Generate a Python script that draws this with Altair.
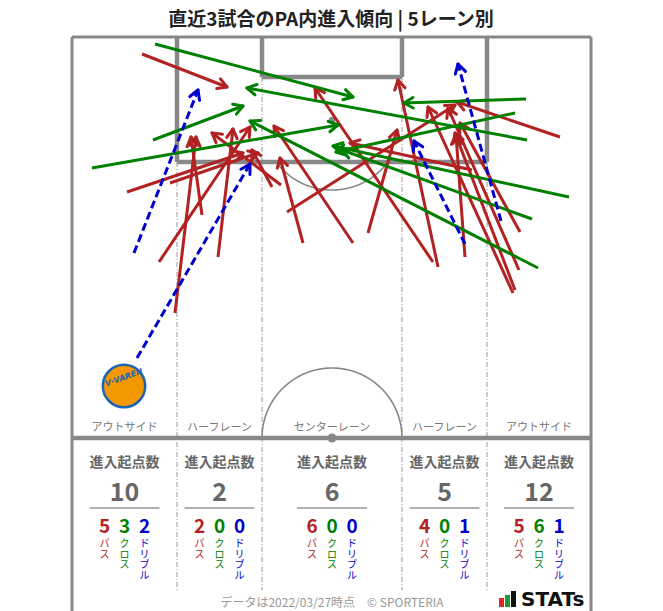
import altair as alt
import pandas as pd
import numpy as np

# ---------------- data (screen-pixel coordinates of the pitch drawing) ----------------
# passes (red)
pass_x0 = [142, 127, 170, 159, 175, 202, 218, 272, 281, 287, 303, 353, 368, 438, 465, 433, 472, 560, 520, 519, 513, 515]
pass_y0 = [54, 192, 183, 262, 313, 215, 257, 187, 185, 212, 243, 243, 233, 267, 257, 262, 170, 137, 232, 270, 293, 290]
pass_x1 = [227, 243, 258, 250, 196, 191, 233, 252, 212, 455, 280, 274, 397, 398, 456, 315, 350, 457, 460, 448, 428, 455]
pass_y1 = [87, 153, 153, 127, 137, 137, 129, 150, 133, 105, 158, 126, 130, 80, 135, 88, 143, 102, 123, 108, 107, 133]
# crosses (green)
cross_x0 = [155, 153, 92, 526, 527, 515, 569, 532, 538]
cross_y0 = [44, 140, 168, 99, 140, 113, 197, 219, 268]
cross_x1 = [353, 243, 338, 404, 247, 336, 333, 342, 250]
cross_y1 = [97, 106, 125, 103, 88, 152, 146, 150, 121]
# dribbles (blue, dashed)
drib_x0 = [137, 134, 465, 501]
drib_y0 = [358, 253, 244, 221]
drib_x1 = [250, 198, 414, 458]
drib_y1 = [164, 90, 141, 64]

lanes = ["アウトサイド", "ハーフレーン", "センターレーン", "ハーフレーン", "アウトサイド"]
lane_total = [10, 2, 6, 5, 12]
lane_pass = [5, 2, 6, 4, 5]
lane_cross = [3, 0, 0, 0, 6]
lane_drib = [2, 0, 0, 1, 1]
kind_labels = ["パス", "クロス", "ドリブル"]

title_text = "直近3試合のPA内進入傾向 | 5レーン別"
footer_text = "データは2022/03/27時点　© SPORTERIA"

# ---------------- geometry of the pitch ----------------
L, R, T, B = 72, 591, 37, 611
HALF = 438
lane_x = [72, 177, 262, 402, 487, 591]
lane_cx = [(lane_x[i] + lane_x[i + 1]) / 2 for i in range(5)]
CX = 332

RED, GREEN, BLUE = "#b22222", "#008000", "#0000cd"
GRAY = "#888888"
FONT = "Noto Sans CJK JP"

W, H = 647, 603
xs = alt.Scale(domain=[8, 8 + W], nice=False, zero=False)
ys = alt.Scale(domain=[8, 8 + H], nice=False, zero=False, reverse=True)

X = lambda f="x": alt.X(f"{f}:Q", scale=xs, axis=None)
Y = lambda f="y": alt.Y(f"{f}:Q", scale=ys, axis=None)


def seg_layer(df, **mk):
    return alt.Chart(df).mark_rule(**mk).encode(x=X(), y=Y(), x2="x2:Q", y2="y2:Q")


def segs(lst):
    return pd.DataFrame(lst, columns=["x", "y", "x2", "y2"])


border = seg_layer(segs([(L, T, R, T), (L, T, L, B), (R, T, R, B)]), color=GRAY, strokeWidth=3)
thick = seg_layer(
    segs([
        (177, T, 177, 162), (487, T, 487, 162), (177, 162, 487, 162),
        (262, T, 262, 77), (402, T, 402, 77), (262, 77, 402, 77),
        (L, HALF, R, HALF),
    ]),
    color=GRAY, strokeWidth=4.5,
)
lane_lines = seg_layer(
    segs([(177, 162, 177, 590), (487, 162, 487, 590), (262, 77, 262, 590), (402, 77, 402, 590)]),
    color="#999999", strokeWidth=1, strokeDash=[5, 2, 1, 2],
)


def arc_df(cx, cy, r, a0, a1, n=80):
    t = np.linspace(a0, a1, n)
    return pd.DataFrame({"x": cx + r * np.cos(t), "y": cy + r * np.sin(t), "o": np.arange(n)})


center_arc = alt.Chart(arc_df(CX, HALF, 70, np.pi, 2 * np.pi)).mark_line(color=GRAY, strokeWidth=1.6).encode(
    x=X(), y=Y(), order="o:Q")
pa = np.arccos(42 / 70)
pen_arc = alt.Chart(arc_df(CX, 120, 70, np.pi / 2 - pa, np.pi / 2 + pa)).mark_line(color=GRAY, strokeWidth=1.6).encode(
    x=X(), y=Y(), order="o:Q")
spot1 = alt.Chart(pd.DataFrame({"x": [CX], "y": [HALF]})).mark_circle(size=80, color=GRAY, opacity=1).encode(x=X(), y=Y())
spot2 = alt.Chart(pd.DataFrame({"x": [CX], "y": [120]})).mark_circle(size=45, color=GRAY, opacity=1).encode(x=X(), y=Y())


# ---------------- arrows ----------------
def arrow_frames(x0, y0, x1, y1, hl=10.5, phi=np.radians(30)):
    x0, y0, x1, y1 = (np.asarray(v, dtype=float) for v in (x0, y0, x1, y1))
    shafts = pd.DataFrame({"x": x0, "y": y0, "x2": x1, "y2": y1})
    a = np.arctan2(y1 - y0, x1 - x0)
    heads = []
    for s in (-1, 1):
        ang = a + np.pi + s * phi
        heads.append(pd.DataFrame({"x": x1, "y": y1, "x2": x1 + hl * np.cos(ang), "y2": y1 + hl * np.sin(ang)}))
    return shafts, pd.concat(heads, ignore_index=True)


arrow_layers = []
for (x0, y0, x1, y1, col, dash) in [
    (pass_x0, pass_y0, pass_x1, pass_y1, RED, None),
    (cross_x0, cross_y0, cross_x1, cross_y1, GREEN, None),
    (drib_x0, drib_y0, drib_x1, drib_y1, BLUE, [8, 4]),
]:
    sh, hd = arrow_frames(x0, y0, x1, y1)
    kw = dict(color=col, strokeWidth=3)
    if dash:
        kw["strokeDash"] = dash
    arrow_layers.append(seg_layer(sh, **kw))
    arrow_layers.append(seg_layer(hd, color=col, strokeWidth=3, strokeCap="round"))


# ---------------- texts ----------------
def text_layer(df, **mk):
    mk.setdefault("font", FONT)
    return alt.Chart(df).mark_text(**mk).encode(x=X(), y=Y(), text="t:N")


title = text_layer(pd.DataFrame({"x": [331], "y": [20], "t": [title_text]}), fontSize=19, fontWeight="bold", color="#222222")
lane_lab = text_layer(pd.DataFrame({"x": lane_cx, "y": [428] * 5, "t": lanes}), fontSize=11, color="#777777")
head_lab = text_layer(pd.DataFrame({"x": lane_cx, "y": [463] * 5, "t": ["進入起点数"] * 5}), fontSize=14, fontWeight="bold", color="#666666")
total_lab = text_layer(pd.DataFrame({"x": lane_cx, "y": [493] * 5, "t": [str(v) for v in lane_total]}), fontSize=25, fontWeight="bold", color="#666666")
underline = seg_layer(segs([(c - 35, 508, c + 35, 508) for c in lane_cx]), color="#666666", strokeWidth=1.2)

sub_layers = []
for off, vals, col, lab in [(-20, lane_pass, RED, kind_labels[0]), (0, lane_cross, GREEN, kind_labels[1]), (20, lane_drib, BLUE, kind_labels[2])]:
    xs_ = [c + off for c in lane_cx]
    sub_layers.append(text_layer(pd.DataFrame({"x": xs_, "y": [527] * 5, "t": [str(v) for v in vals]}), fontSize=19, fontWeight="bold", color=col))
    vt = "\n".join(list(lab))
    sub_layers.append(text_layer(pd.DataFrame({"x": xs_, "y": [539] * 5, "t": [vt] * 5}),
                                 fontSize=10, color=col, baseline="top", lineBreak="\n", lineHeight=10.5))

footer = text_layer(pd.DataFrame({"x": [332], "y": [603], "t": [footer_text]}), fontSize=12, color="#999999")

logo_bars = alt.Chart(pd.DataFrame({"x": [499, 505, 511], "x2": [504, 510, 516], "y": [598, 595, 591], "y2": [607, 607, 607], "c": ["r", "g", "k"]})).mark_rect().encode(
    x=X(), x2="x2:Q", y=Y(), y2="y2:Q",
    color=alt.Color("c:N", scale=alt.Scale(domain=["r", "g", "k"], range=["#e0262a", "#1a9a3a", "#111111"]), legend=None),
)
logo_text = text_layer(pd.DataFrame({"x": [521], "y": [600], "t": ["STATs"]}), font="DejaVu Sans", fontSize=20, fontWeight="bold", color="#111111", align="left")

badge = alt.Chart(pd.DataFrame({"x": [124], "y": [386]})).mark_point(
    shape="circle", size=1800, filled=True, fill="#f39800", stroke="#1e64b4", strokeWidth=2.5, opacity=1
).encode(x=X(), y=Y())
badge_text = text_layer(pd.DataFrame({"x": [124], "y": [378], "t": ["V·VAREN"]}), font="DejaVu Sans", fontSize=8, fontWeight="bold", fontStyle="italic", color="#1e64b4", angle=340)

chart = alt.layer(
    lane_lines, center_arc, pen_arc, border, thick, spot1, spot2,
    badge, badge_text,
    *arrow_layers,
    title, lane_lab, head_lab, total_lab, underline, *sub_layers, footer, logo_bars, logo_text,
).properties(width=W, height=H, padding=0, autosize=alt.AutoSizeParams(type="none"), background="white").configure_view(stroke=None)

chart.save("out.html", embed_options={"renderer": "svg", "actions": False})
